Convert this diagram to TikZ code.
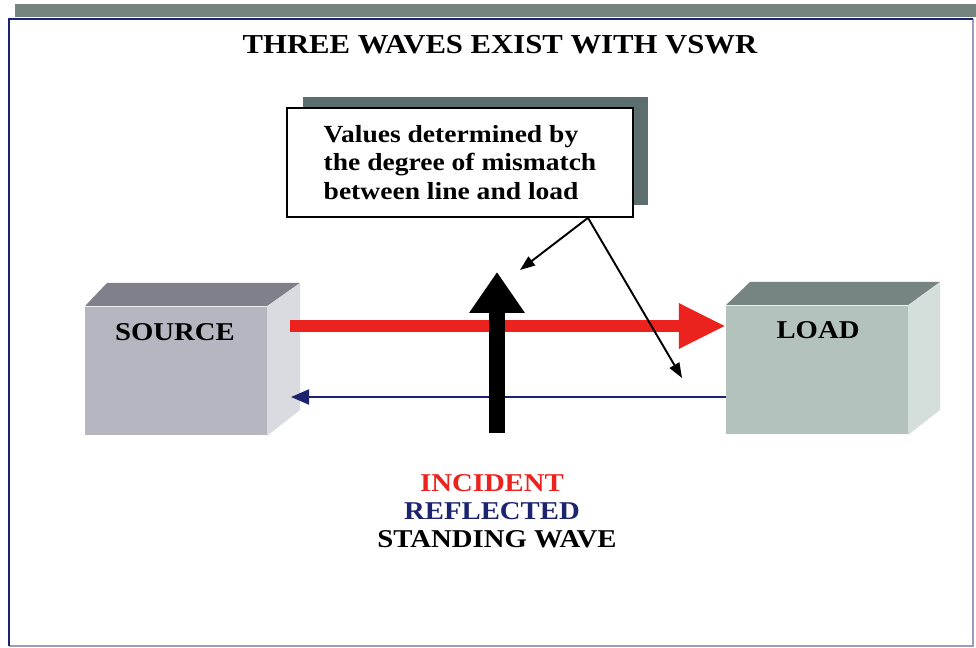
\documentclass[tikz,border=0pt]{standalone}
\usepackage{fontspec}
\setmainfont{Liberation Serif}[FakeStretch=1.12]
\usetikzlibrary{arrows.meta,shadows}
\definecolor{navy}{RGB}{28,36,112}
\definecolor{wavered}{RGB}{236,34,30}
\definecolor{band}{RGB}{118,132,128}
\definecolor{slate}{RGB}{92,110,110}
\definecolor{srcfront}{RGB}{182,182,192}
\definecolor{srctop}{RGB}{128,128,138}
\definecolor{srcside}{RGB}{218,218,225}
\definecolor{ldfront}{RGB}{180,194,190}
\definecolor{ldtop}{RGB}{118,132,130}
\definecolor{ldside}{RGB}{212,222,218}

\begin{document}
\begin{tikzpicture}[x=0.02cm,y=-0.02cm,font=\bfseries\fontsize{14.6}{17}\selectfont,
                    lbl/.style={inner sep=1pt},
                    front/.style={fill=#1,inner sep=0pt,minimum width=3.63cm,minimum height=2.58cm},
                    callout/.style={-{Triangle[length=0.3cm,width=0.22cm]},line width=1.1pt}]
  \useasboundingbox[fill=white] (0,0) rectangle (976,648);
  % frame and band
  \fill[band] (15,4) rectangle (976,17);
  \draw[navy!45,line width=0.6pt] (973,19) -- (973,646) -- (9,646);
  \draw[navy,line width=1.6pt] (9,646) -- (9,19) -- (973,19);
  \node[font=\bfseries\fontsize{15.6}{18}\selectfont] (ttl) at (500,45) {THREE WAVES EXIST WITH VSWR};
  % source block
  \node[front=srcfront] (src) at (176,371) {};
  \fill[srctop] (src.north west) -- (107,283) -- (300,283) -- (src.north east) -- cycle;
  \fill[srcside] (src.north east) -- (300,283) -- (300,410) -- (src.south east) -- cycle;
  \node[lbl] (srct) at (175,332) {SOURCE};
  % load block
  \node[front=ldfront] (ld) at (817,370) {};
  \fill[ldtop] (ld.north west) -- (750,282) -- (940,282) -- (ld.north east) -- cycle;
  \fill[ldside] (ld.north east) -- (940,282) -- (940,410) -- (ld.south east) -- cycle;
  \node[lbl] (ldt) at (818,330) {LOAD};
  % waves
  \coordinate (i0) at (290,326);
  \coordinate (i1) at (ld.west |- i0);
  \coordinate (r0) at (ld.west |- 0,397);
  \coordinate (r1) at (291,397);
  \coordinate (s0) at (497,433);
  \coordinate (s1) at (497,272);
  \draw[wavered,line width=0.24cm,-{Triangle[length=0.94cm,width=0.84cm]}] (i0) -- (i1);
  \draw[navy,line width=1.2pt,-{Triangle[length=0.36cm,width=0.3cm]}] (r0) -- (r1);
  \draw[line width=0.32cm,-{Triangle[length=0.82cm,width=1.06cm]}] (s0) -- (s1);
  % note with shadow
  \node[draw,line width=1pt,fill=white,minimum width=6.92cm,minimum height=2.18cm,align=left,
        font=\bfseries\fontsize{14}{16.4}\selectfont,
        drop shadow={shadow xshift=0.31cm,shadow yshift=0.23cm,fill=slate,opacity=1}]
        (msg) at (460,162.5) {Values determined by\\the degree of mismatch\\between line and load};
  \coordinate (tail) at ([xshift=2.56cm]msg.south);
  \coordinate (c1) at (520,270);
  \coordinate (c2) at (682,378);
  \draw[callout] (tail) -- (c1);
  \draw[callout] (tail) -- (c2);
  % legend
  \node[lbl,wavered] (inc) at (492,483) {INCIDENT};
  \node[lbl,navy] (refl) at (492,511) {REFLECTED};
  \node[lbl] (stw) at (497,539) {STANDING WAVE};
\end{tikzpicture}
\end{document}
